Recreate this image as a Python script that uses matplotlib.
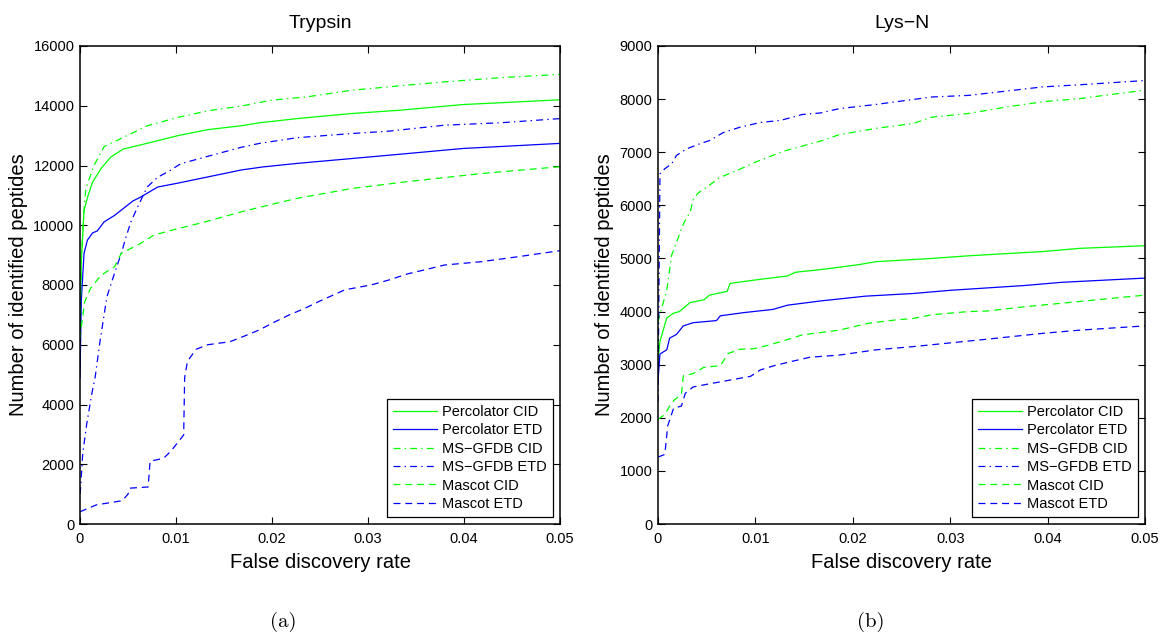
import matplotlib
matplotlib.use("Agg")
import matplotlib.pyplot as plt

# ---- Trypsin (a) ----
T_PERC_CID_X = [0, 0.00014, 0.00042, 0.0008, 0.0013, 0.0022, 0.0032, 0.0045, 0.0067, 0.0102, 0.0133,
                0.0168, 0.0187, 0.0226, 0.0283, 0.0333, 0.0399, 0.045, 0.05]
T_PERC_CID_Y = [6500, 8830, 10500, 10950, 11440, 11900, 12280, 12550, 12720, 13000, 13200,
                13330, 13430, 13570, 13740, 13850, 14040, 14120, 14200]

T_PERC_ETD_X = [0, 0.00014, 0.00042, 0.00077, 0.0013, 0.0018, 0.0025, 0.0036, 0.0055, 0.0063, 0.0081,
                0.0102, 0.0168, 0.019, 0.0226, 0.0303, 0.0341, 0.0399, 0.05]
T_PERC_ETD_Y = [4900, 7500, 9060, 9500, 9740, 9810, 10110, 10330, 10810, 10940, 11280,
                11410, 11850, 11950, 12070, 12290, 12400, 12570, 12740]

T_MSG_CID_X = [0, 0.00014, 0.00042, 0.0006, 0.00146, 0.0025, 0.0049, 0.007, 0.0102, 0.0133, 0.0168,
               0.0199, 0.0237, 0.0283, 0.0341, 0.038, 0.0438, 0.05]
T_MSG_CID_Y = [6500, 8830, 10500, 11220, 12000, 12630, 13000, 13330, 13610, 13830, 13990,
               14185, 14300, 14520, 14690, 14800, 14940, 15050]

T_MSG_ETD_X = [0, 0.00007, 0.00028, 0.0007, 0.00123, 0.00158, 0.0021, 0.0028, 0.0035, 0.0043, 0.0048,
               0.0053, 0.006, 0.007, 0.0081, 0.0091, 0.0105, 0.013, 0.0168, 0.0187, 0.0226, 0.0283,
               0.0322, 0.038, 0.0438, 0.05]
T_MSG_ETD_Y = [1000, 1230, 2350, 3350, 4360, 4920, 6150, 7600, 8300, 9060, 9610,
               10110, 10610, 11280, 11610, 11780, 12060, 12280, 12610, 12740, 12930, 13070,
               13150, 13350, 13430, 13570]

T_MASCOT_CID_X = [0, 0.0001, 0.0005, 0.0011, 0.0022, 0.0036, 0.0043, 0.0063, 0.0077, 0.0095, 0.013,
                  0.0168, 0.0187, 0.0226, 0.0264, 0.0283, 0.0341, 0.0418, 0.05]
T_MASCOT_CID_Y = [6200, 6500, 7450, 7890, 8330, 8610, 9060, 9390, 9670, 9830, 10110,
                  10450, 10600, 10900, 11120, 11230, 11460, 11730, 11960]

T_MASCOT_ETD_X = [0, 0.0017, 0.0044, 0.005, 0.0052, 0.0071, 0.0073, 0.0087, 0.0095, 0.0108, 0.0109,
                  0.0112, 0.0121, 0.0133, 0.0156, 0.0172, 0.0187, 0.0202, 0.0218, 0.0233, 0.0249,
                  0.0276, 0.0303, 0.0322, 0.0341, 0.038, 0.0418, 0.0457, 0.05]
T_MASCOT_ETD_Y = [410, 640, 780, 1000, 1200, 1240, 2100, 2200, 2450, 2980, 4900,
                  5450, 5850, 6000, 6100, 6300, 6500, 6750, 7000, 7200, 7450,
                  7840, 8000, 8170, 8370, 8670, 8780, 8950, 9150]

# ---- Lys-N (b) ----
L_PERC_CID_X = [0, 0.0002, 0.0009, 0.0016, 0.0022, 0.0033, 0.0047, 0.0053, 0.0071, 0.0074, 0.0102,
                0.0133, 0.0141, 0.0167, 0.0205, 0.0224, 0.0281, 0.0319, 0.0395, 0.0433, 0.05]
L_PERC_CID_Y = [3060, 3440, 3880, 3970, 4000, 4170, 4220, 4310, 4380, 4530, 4600,
                4670, 4740, 4790, 4880, 4940, 5000, 5050, 5130, 5190, 5240]

L_PERC_ETD_X = [0, 0.0002, 0.0009, 0.0012, 0.0019, 0.0026, 0.0036, 0.006, 0.0064, 0.0088, 0.0118,
                0.0133, 0.0167, 0.0213, 0.0262, 0.03, 0.0376, 0.0414, 0.05]
L_PERC_ETD_Y = [2700, 3200, 3280, 3500, 3570, 3730, 3790, 3830, 3920, 3980, 4040,
                4120, 4200, 4290, 4340, 4400, 4490, 4550, 4630]

L_MSG_CID_X = [0, 0.0002, 0.0009, 0.0014, 0.0021, 0.0024, 0.0028, 0.0033, 0.0036, 0.0041, 0.005,
               0.0063, 0.0084, 0.0101, 0.0129, 0.0167, 0.0186, 0.0224, 0.0262, 0.0281, 0.0319,
               0.0357, 0.0395, 0.0433, 0.05]
L_MSG_CID_Y = [3800, 3950, 4400, 5060, 5400, 5560, 5720, 5870, 6100, 6230, 6340,
               6520, 6680, 6820, 7020, 7210, 7330, 7450, 7540, 7660, 7730,
               7850, 7950, 8010, 8170]

L_MSG_ETD_X = [0, 0.0001, 0.0002, 0.0007, 0.0014, 0.0019, 0.0029, 0.0043, 0.0053, 0.0067, 0.0084,
               0.0105, 0.0126, 0.0148, 0.0167, 0.0186, 0.0224, 0.0281, 0.0319, 0.0357, 0.0395,
               0.0433, 0.05]
L_MSG_ETD_Y = [2300, 4500, 6590, 6690, 6780, 6940, 7060, 7160, 7220, 7370, 7470,
               7560, 7600, 7710, 7740, 7820, 7900, 8040, 8070, 8150, 8230,
               8270, 8350]

L_MASCOT_CID_X = [0, 0.0007, 0.0012, 0.0017, 0.0024, 0.0026, 0.0036, 0.0047, 0.0064, 0.0072, 0.0084,
                  0.0098, 0.011, 0.0129, 0.0148, 0.0186, 0.0216, 0.0243, 0.0262, 0.0281, 0.0319,
                  0.0338, 0.0376, 0.0399, 0.0433, 0.05]
L_MASCOT_CID_Y = [1970, 2060, 2220, 2340, 2440, 2790, 2830, 2950, 2980, 3210, 3290,
                  3300, 3350, 3450, 3560, 3650, 3780, 3840, 3870, 3940, 4000,
                  4010, 4090, 4130, 4190, 4310]

L_MASCOT_ETD_X = [0, 0.0007, 0.001, 0.0016, 0.0024, 0.0028, 0.0036, 0.005, 0.0071, 0.0095, 0.0105,
                  0.0119, 0.0137, 0.0156, 0.0186, 0.0224, 0.0262, 0.03, 0.0338, 0.0395, 0.0433, 0.05]
L_MASCOT_ETD_Y = [1260, 1310, 1850, 2180, 2220, 2460, 2580, 2630, 2700, 2780, 2900,
                  2980, 3060, 3140, 3180, 3280, 3340, 3410, 3480, 3590, 3650, 3730]

LABELS = ["Percolator CID", "Percolator ETD", "MS\u2212GFDB CID", "MS\u2212GFDB ETD",
          "Mascot CID", "Mascot ETD"]
X_TICKS = [0, 0.01, 0.02, 0.03, 0.04, 0.05]
X_TICKLABELS = ["0", "0.01", "0.02", "0.03", "0.04", "0.05"]
T_YTICKS = [0, 2000, 4000, 6000, 8000, 10000, 12000, 14000, 16000]
L_YTICKS = [0, 1000, 2000, 3000, 4000, 5000, 6000, 7000, 8000, 9000]

GREEN = "#00ff00"
BLUE = "#0000ff"
STYLES = [
    dict(color=GREEN, linestyle="-"),
    dict(color=BLUE, linestyle="-"),
    dict(color=GREEN, linestyle=(0, (5, 3, 1, 3))),
    dict(color=BLUE, linestyle=(0, (5, 3, 1, 3))),
    dict(color=GREEN, linestyle=(0, (5, 3.5))),
    dict(color=BLUE, linestyle=(0, (5, 3.5))),
]

plt.rcParams["font.family"] = ["Liberation Sans", "DejaVu Sans"]
plt.rcParams["lines.scale_dashes"] = False


def panel(ax, series, title, yticks, ymax):
    for (x, y), lab, st in zip(series, LABELS, STYLES):
        ax.plot(x, y, lw=0.9, label=lab, **st)
    ax.set_xlim(0, 0.05)
    ax.set_ylim(0, ymax)
    ax.set_xticks(X_TICKS)
    ax.set_xticklabels(X_TICKLABELS)
    ax.set_yticks(yticks)
    ax.set_yticklabels([str(v) for v in yticks])
    ax.tick_params(direction="in", length=5, width=0.8, top=True, right=True,
                   labelsize=10.5)
    ax.tick_params(axis="x", pad=6)
    ax.tick_params(axis="y", pad=4)
    for sp in ax.spines.values():
        sp.set_linewidth(1.1)
    ax.set_title(title, fontsize=14, pad=13)
    ax.set_xlabel("False discovery rate", fontsize=14.5, labelpad=5)
    ax.set_ylabel("Number of identified peptides", fontsize=14.5, labelpad=4)
    leg = ax.legend(loc="lower right", fontsize=10.5, fancybox=False, framealpha=1,
                    edgecolor="black", handlelength=3.0, handletextpad=0.35,
                    labelspacing=0.3, borderpad=0.4, borderaxespad=0.5)
    leg.get_frame().set_linewidth(0.9)


fig = plt.figure(figsize=(11.6, 6.39), dpi=100)
ax1 = fig.add_axes([80 / 1160, 1 - 524 / 639, 480 / 1160, 478 / 639])
ax2 = fig.add_axes([658 / 1160, 1 - 524 / 639, 487 / 1160, 478 / 639])

panel(ax1, [(T_PERC_CID_X, T_PERC_CID_Y), (T_PERC_ETD_X, T_PERC_ETD_Y),
            (T_MSG_CID_X, T_MSG_CID_Y), (T_MSG_ETD_X, T_MSG_ETD_Y),
            (T_MASCOT_CID_X, T_MASCOT_CID_Y), (T_MASCOT_ETD_X, T_MASCOT_ETD_Y)],
      "Trypsin", T_YTICKS, 16000)
panel(ax2, [(L_PERC_CID_X, L_PERC_CID_Y), (L_PERC_ETD_X, L_PERC_ETD_Y),
            (L_MSG_CID_X, L_MSG_CID_Y), (L_MSG_ETD_X, L_MSG_ETD_Y),
            (L_MASCOT_CID_X, L_MASCOT_CID_Y), (L_MASCOT_ETD_X, L_MASCOT_ETD_Y)],
      "Lys\u2212N", L_YTICKS, 9000)

fig.text(283 / 1160, 1 - 622 / 639, "(a)", family="cmr10", fontsize=15, ha="center", va="center")
fig.text(871 / 1160, 1 - 622 / 639, "(b)", family="cmr10", fontsize=15, ha="center", va="center")

fig.savefig("out.png", dpi=100)
